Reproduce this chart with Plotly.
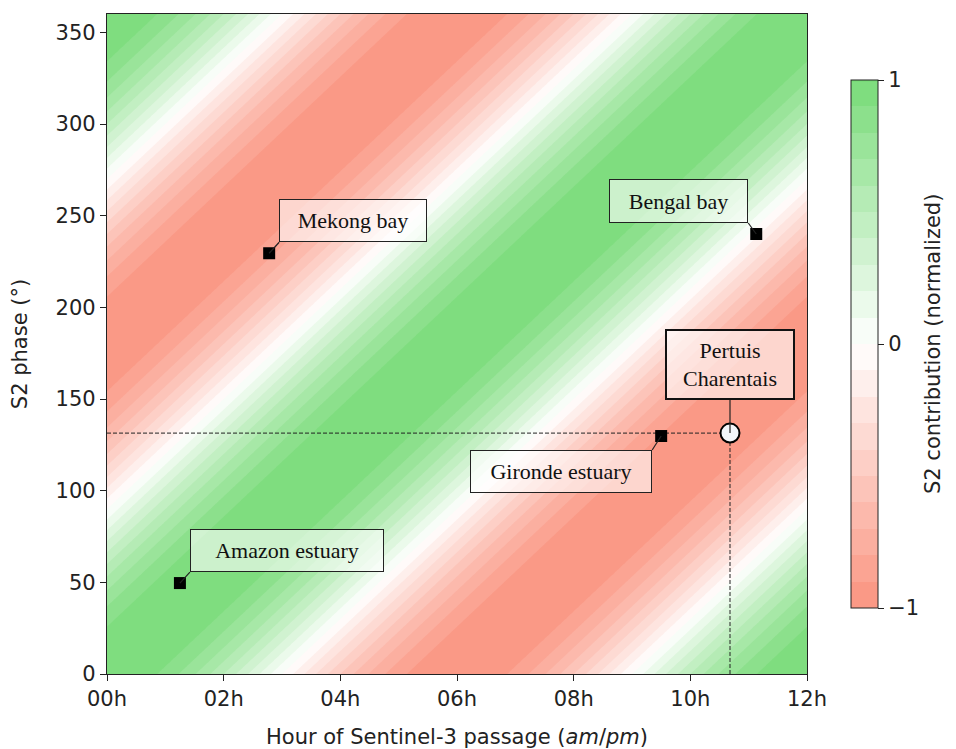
import numpy as np
import plotly.graph_objects as go

# ---- data ----
site_names = ["Mekong bay", "Bengal bay", "Gironde estuary", "Amazon estuary"]
site_hours = [2.78, 11.13, 9.50, 1.25]
site_phase = [229.5, 240.0, 129.8, 49.6]

ref_name = "Pertuis<br>Charentais"
ref_hour = 10.68
ref_phase = 131.4

x_tickvals = [0, 2, 4, 6, 8, 10, 12]
x_ticktext = ["00h", "02h", "04h", "06h", "08h", "10h", "12h"]
y_tickvals = [0, 50, 100, 150, 200, 250, 300, 350]

S2_PERIOD_H = 12.0  # semi-diurnal S2 tide period
hours = np.linspace(0, 12, 241)
phases = np.linspace(0, 360, 361)
H, P = np.meshgrid(hours, phases)
contrib = np.cos(2 * np.pi * H / S2_PERIOD_H - np.radians(P))

# ---- styles ----
GREEN = "rgb(120,219,120)"
RED = "rgb(250,148,128)"
colorscale = [[0.0, RED], [0.5, "rgb(255,255,255)"], [1.0, GREEN]]
serif = "Liberation Serif, Times New Roman, serif"
sans = "DejaVu Sans, sans-serif"
FS = 21

# per-site label box layout: (xanchor, yanchor, dx, dy, width, height)
label_style = [
    ("left", "bottom", 10, 11, 148, 43),
    ("right", "bottom", -8, 11, 139, 44),
    ("right", "top", -9, -14, 182, 43),
    ("left", "bottom", 10, 11, 194, 43),
]

fig = go.Figure()

fig.add_trace(go.Contour(
    x=hours, y=phases, z=contrib,
    colorscale=colorscale, zmin=-1, zmax=1,
    contours=dict(start=-1, end=1, size=0.1, coloring="fill"),
    line=dict(width=0),
    colorbar=dict(
        x=1.0629, xanchor="left", xpad=0, ypad=0,
        y=0.5, yanchor="middle", len=0.8, lenmode="fraction",
        thickness=27, outlinewidth=1, outlinecolor="#222",
        tickvals=[-1, 0, 1], ticktext=["\u22121", "0", "1"],
        ticks="outside", ticklen=6, tickcolor="#222",
        tickfont=dict(family=sans, size=FS, color="#222"),
    ),
    hoverinfo="skip",
    showscale=True,
))

# dashed guide lines through reference site
fig.add_trace(go.Scatter(
    x=[0, ref_hour], y=[ref_phase, ref_phase], mode="lines",
    line=dict(color="#222", width=1, dash="4px,2px"), showlegend=False, hoverinfo="skip"))
fig.add_trace(go.Scatter(
    x=[ref_hour, ref_hour], y=[0, ref_phase], mode="lines",
    line=dict(color="#222", width=1, dash="4px,2px"), showlegend=False, hoverinfo="skip"))

# connector lines (pixel offsets anchored at each site)
for hx, py, (xa, ya, dx, dy, w, h) in zip(site_hours, site_phase, label_style):
    fig.add_shape(type="line", xref="x", yref="y",
                  xsizemode="pixel", ysizemode="pixel",
                  xanchor=hx, yanchor=py, x0=0, y0=0, x1=dx, y1=dy,
                  line=dict(color="#222", width=1.2), layer="above")
fig.add_shape(type="line", xref="x", yref="y",
              xsizemode="pixel", ysizemode="pixel",
              xanchor=ref_hour, yanchor=ref_phase, x0=0, y0=0, x1=0, y1=33,
              line=dict(color="#222", width=1.2), layer="above")

# site markers
fig.add_trace(go.Scatter(
    x=site_hours, y=site_phase, mode="markers",
    marker=dict(symbol="square", size=12, color="black"),
    showlegend=False, hoverinfo="skip"))
fig.add_trace(go.Scatter(
    x=[ref_hour], y=[ref_phase], mode="markers",
    marker=dict(symbol="circle", size=19, color="#f3f6fa",
                line=dict(color="black", width=2)),
    showlegend=False, hoverinfo="skip"))

# labels
for name, hx, py, (xa, ya, dx, dy, w, h) in zip(site_names, site_hours, site_phase, label_style):
    fig.add_annotation(
        x=hx, y=py, xref="x", yref="y", text=name, showarrow=False,
        xanchor=xa, yanchor=ya, xshift=dx, yshift=dy,
        width=w - 2, height=h - 2, borderpad=0, borderwidth=1,
        bordercolor="#222", bgcolor="rgba(255,255,255,0.6)",
        font=dict(family=serif, size=22, color="#111"))
fig.add_annotation(
    x=ref_hour, y=ref_phase, xref="x", yref="y", text=ref_name, showarrow=False,
    xanchor="center", yanchor="bottom", xshift=0, yshift=33,
    width=126, height=67, borderpad=0, borderwidth=2,
    bordercolor="#111", bgcolor="rgba(255,255,255,0.6)",
    font=dict(family=serif, size=22, color="#111"))

# colorbar title
fig.add_annotation(
    x=1.0629, y=0.5, xref="paper", yref="paper", xanchor="center", yanchor="middle",
    xshift=82, text="S2 contribution (normalized)", textangle=-90,
    showarrow=False, font=dict(family=sans, size=FS, color="#222"))

axis_common = dict(
    showgrid=False, zeroline=False, showline=True, linecolor="#222", linewidth=1.2,
    mirror=True, ticks="outside", ticklen=6, tickcolor="#222", automargin=False,
    tickfont=dict(family=sans, size=FS, color="#222"),
)

fig.update_layout(
    width=948, height=741,
    margin=dict(l=99, r=149, t=6, b=75),
    paper_bgcolor="white", plot_bgcolor="white",
    showlegend=False,
    xaxis=dict(range=[0, 12], tickvals=x_tickvals, ticktext=x_ticktext,
               title=dict(text="Hour of Sentinel-3 passage (<i>am</i>/<i>pm</i>)",
                          font=dict(family=sans, size=FS, color="#222"), standoff=20),
               **axis_common),
    yaxis=dict(range=[0, 360], tickvals=y_tickvals,
               title=dict(text="S2 phase (°)",
                          font=dict(family=sans, size=FS, color="#222"), standoff=22),
               **axis_common),
)

fig.write_html("out.html")
